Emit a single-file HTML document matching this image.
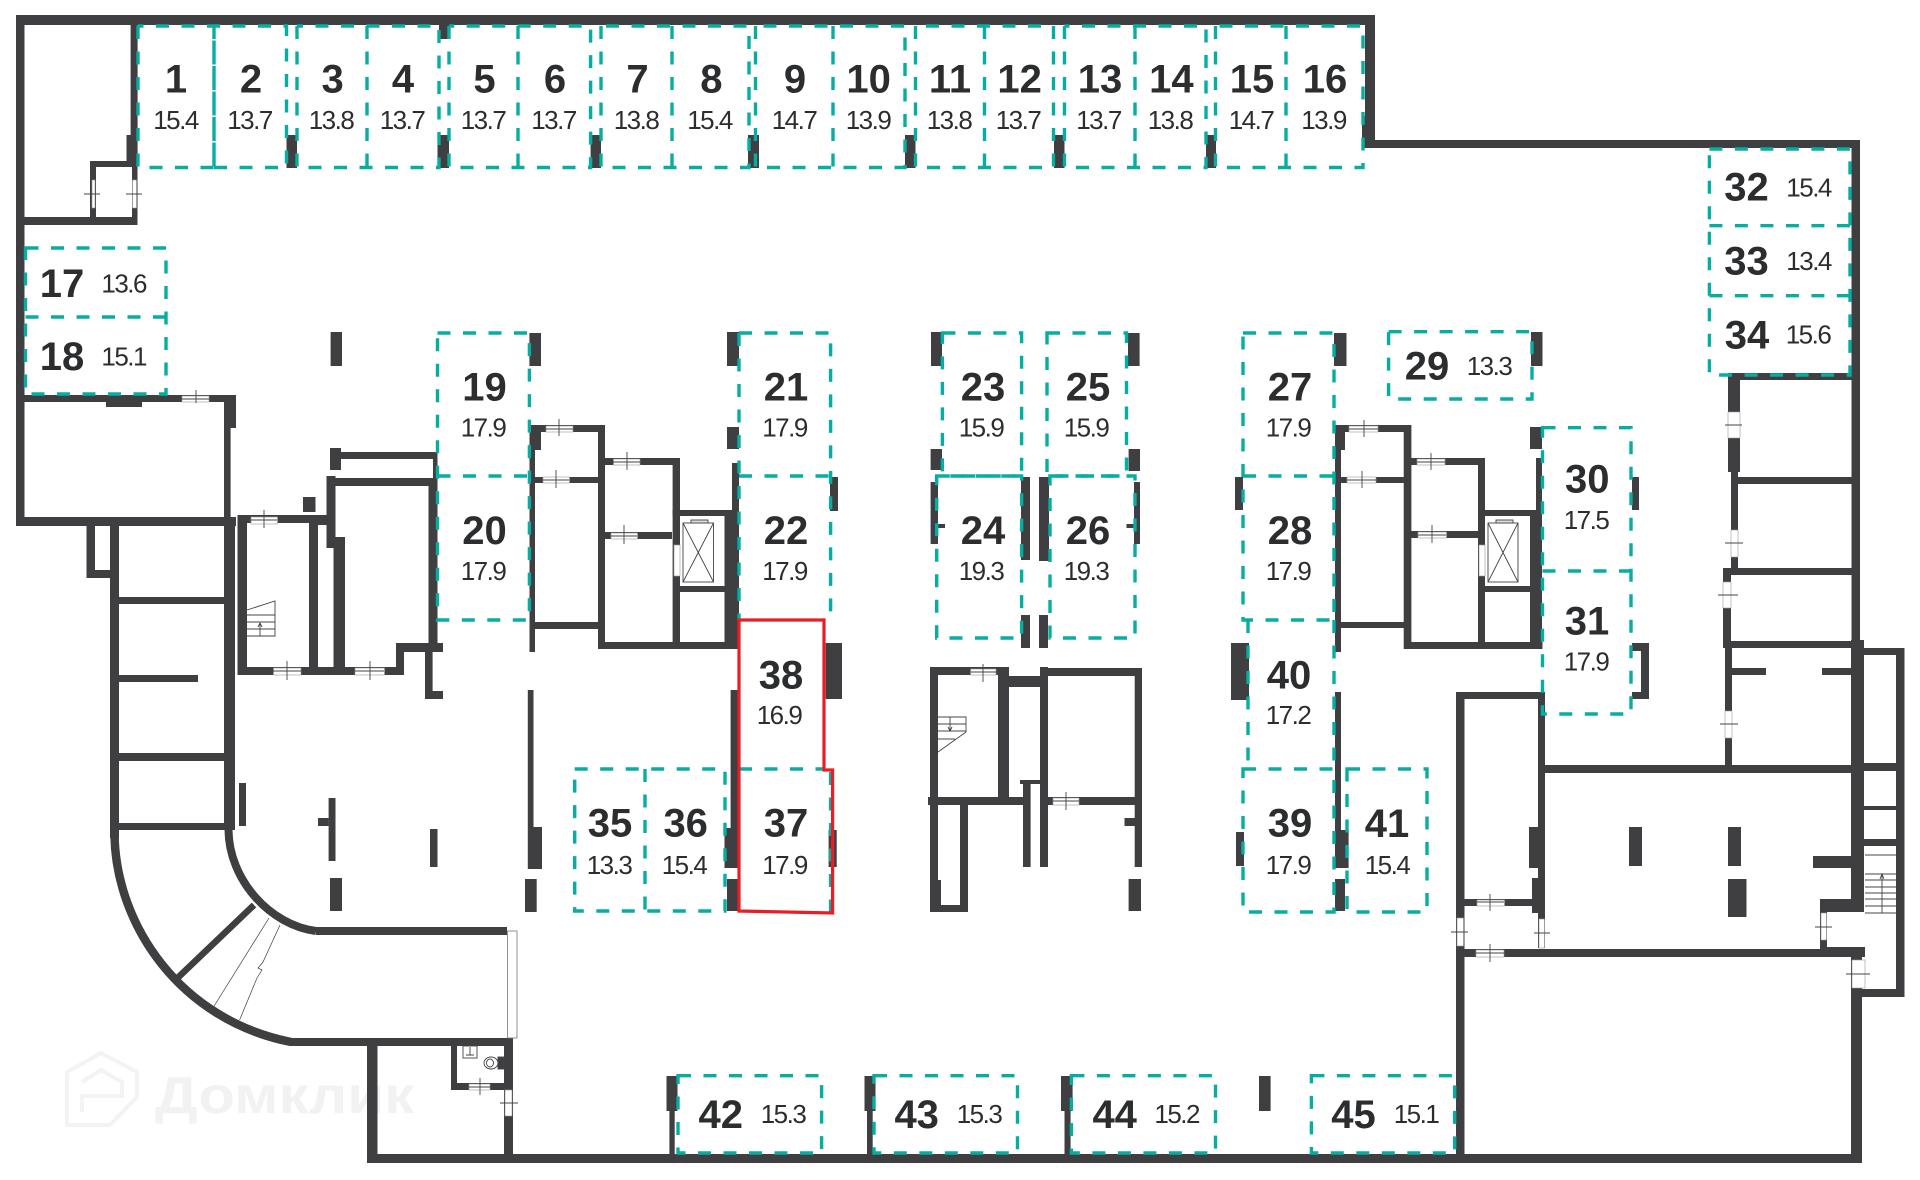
<!DOCTYPE html>
<html lang="ru"><head><meta charset="utf-8"><title>План</title>
<style>
html,body{margin:0;padding:0;background:#fff}
svg{display:block}
.w{fill:#3f3f41}
.d{fill:#fff;stroke:#9a9a9a;stroke-width:.6}
.c{fill:none;stroke:#444;stroke-width:.9}
.t{fill:none;stroke:#06ada0;stroke-width:3.4;stroke-dasharray:13 12.5}
.n{font:bold 40px "Liberation Sans",sans-serif;fill:#2b2d2f;text-anchor:middle}
.a{font:26px "Liberation Sans",sans-serif;fill:#2b2d2f;text-anchor:middle;letter-spacing:-1.5px}
</style></head><body>
<svg width="1920" height="1180" viewBox="0 0 1920 1180" xmlns="http://www.w3.org/2000/svg">
<rect width="1920" height="1180" fill="#fff"/>
<!-- watermark -->
<g fill="none" stroke="#f3f3f3" stroke-width="4"><path d="M67 1072L101 1053L137 1072V1097L110 1125H67Z"/><path d="M82 1082L101 1070L122 1082V1096H82V1112"/></g>
<text x="155" y="1113" font-family="Liberation Sans,sans-serif" font-weight="bold" font-size="52" fill="#f2f2f2" textLength="259" lengthAdjust="spacingAndGlyphs">Домклик</text>
<!-- outer walls -->
<g class="w">
<rect x="16" y="15" width="1359" height="10"/>
<rect x="16" y="15" width="8.5" height="511"/>
<rect x="1365" y="15" width="10" height="133"/><rect x="1362" y="116" width="13" height="32"/>
<rect x="1362" y="140" width="498" height="8"/>
<rect x="1851.5" y="140" width="8.5" height="510"/>
<rect x="1851" y="640" width="13" height="272"/>
<rect x="1860" y="648" width="44.5" height="7"/>
<rect x="1896" y="648" width="8.5" height="349"/>
<rect x="1862" y="989" width="42.5" height="8"/>
<rect x="1851" y="957" width="11" height="206"/>
<rect x="367" y="1154" width="1495" height="9"/>
<rect x="367" y="1045" width="10.5" height="118"/>
<rect x="504" y="1045" width="9" height="118"/>
<!-- top-left room -->
<rect x="130.6" y="25" width="7" height="140"/><rect x="126.5" y="135" width="11" height="32"/>
<rect x="90" y="161" width="47.5" height="6"/><rect x="90" y="161" width="6" height="64"/><rect x="132" y="161" width="5.5" height="64"/>
<rect x="16" y="217" width="121.5" height="8"/>
<!-- left room -->
<rect x="16" y="395" width="220" height="7"/><rect x="106" y="400" width="36" height="7"/>
<rect x="224" y="395" width="12" height="33"/><rect x="224" y="395" width="6.6" height="125"/>
<rect x="16" y="517" width="220" height="9"/>
<rect x="86.5" y="526" width="8.5" height="52"/><rect x="86.5" y="570" width="32.5" height="8"/>
<rect x="110" y="526" width="9" height="312"/><rect x="224" y="517" width="11" height="313"/>
<rect x="119" y="597" width="105" height="7"/><rect x="119" y="675" width="79" height="7"/>
<rect x="119" y="753" width="105" height="8"/><rect x="119" y="823" width="114" height="7"/>
<rect x="239" y="783" width="7" height="43"/>
<!-- stair room -->
<rect x="237.5" y="515" width="9.5" height="160"/>
<rect x="237.5" y="515" width="90.5" height="8"/>
<rect x="309" y="515" width="9" height="160"/><rect x="316" y="515" width="12" height="10"/>
<rect x="333.5" y="537" width="11.5" height="138"/>
<rect x="326.5" y="476" width="9" height="72"/>
<rect x="237.5" y="667" width="166.5" height="8"/>
<rect x="303" y="497" width="12.5" height="15"/>
<rect x="330" y="448" width="11" height="22"/>
<rect x="330" y="452" width="107.5" height="7"/><rect x="330" y="478" width="107" height="8"/>
<rect x="428.5" y="478" width="9" height="174"/><rect x="433" y="452" width="4.5" height="26"/>
<rect x="396" y="643" width="8" height="32"/><rect x="396" y="643" width="47" height="9"/>
<rect x="425" y="652" width="7.6" height="47"/><rect x="425" y="691" width="18" height="8"/>
<!-- mid-left block -->
<rect x="529.5" y="425" width="5.5" height="227"/><rect x="529.5" y="425" width="11.5" height="25"/>
<rect x="530" y="425" width="75" height="7"/><rect x="598" y="425" width="7" height="224"/>
<rect x="535" y="477" width="63" height="6"/><rect x="535" y="622" width="63" height="7"/>
<rect x="605" y="458" width="75" height="7"/><rect x="672.6" y="458" width="7.4" height="191"/>
<rect x="605" y="532" width="67" height="7"/><rect x="598" y="642" width="142" height="7"/>
<rect x="672.6" y="510" width="61.4" height="6"/><rect x="724.5" y="510" width="14.5" height="139"/>
<rect x="732" y="463" width="7" height="53"/><rect x="680" y="586" width="45" height="6"/>
<!-- pillars -->
<rect x="727" y="427" width="12" height="22"/><rect x="727" y="332" width="12" height="34"/>
<rect x="730.6" y="690" width="7.4" height="140"/><rect x="724.5" y="828" width="13.5" height="40"/><rect x="727" y="879" width="11" height="32"/>
<rect x="825.7" y="643" width="16.3" height="56"/><rect x="830" y="477" width="8" height="34"/><rect x="828.6" y="830" width="8.1" height="37"/>
<rect x="931" y="332" width="11" height="34"/><rect x="1128" y="333" width="11.6" height="33"/>
<rect x="930.6" y="449" width="11.4" height="21"/><rect x="1128.6" y="449" width="11.4" height="22"/>
<rect x="930.6" y="482" width="7.4" height="62"/><rect x="938" y="524" width="7" height="4"/>
<rect x="1021" y="477" width="9" height="83"/><rect x="1039" y="477" width="10" height="84"/>
<rect x="1021" y="615" width="9" height="33"/><rect x="1039" y="615" width="9" height="33"/>
<rect x="1134" y="482" width="6" height="62"/><rect x="1126.5" y="524" width="7.5" height="4"/>
<!-- lower center -->
<rect x="930" y="667" width="8" height="245"/><rect x="930" y="667" width="77" height="8"/>
<rect x="998" y="667" width="11" height="138"/><rect x="1009" y="676" width="31" height="11"/>
<rect x="1040" y="667" width="8" height="200"/><rect x="1040" y="668" width="102" height="8"/>
<rect x="1134.7" y="668" width="7.3" height="199"/>
<rect x="928" y="797" width="98" height="8"/><rect x="1048" y="797" width="87" height="8"/>
<rect x="1023" y="780" width="7.6" height="87"/><rect x="1020" y="780" width="28" height="4"/>
<rect x="960" y="805" width="8" height="107"/><rect x="930" y="905" width="38" height="7"/><rect x="930" y="880" width="11" height="32"/>
<rect x="1124.5" y="818" width="10.5" height="8"/><rect x="1128.6" y="879" width="12.4" height="32"/>
<!-- right block -->
<rect x="1335" y="425" width="6" height="227"/><rect x="1335" y="425" width="10" height="25"/>
<rect x="1335" y="425" width="76" height="7"/><rect x="1403.7" y="425" width="7.7" height="224"/>
<rect x="1341" y="477" width="63" height="6"/><rect x="1341" y="622" width="63" height="6"/>
<rect x="1411" y="458" width="74" height="7"/><rect x="1478" y="458" width="7" height="191"/>
<rect x="1411" y="531" width="67" height="7"/><rect x="1404" y="642" width="138.5" height="7"/>
<rect x="1485" y="510" width="57" height="6"/><rect x="1530" y="510" width="12" height="139"/>
<rect x="1536" y="458" width="6" height="58"/><rect x="1485" y="586" width="45" height="6"/>
<rect x="1530" y="427" width="12" height="22"/>
<rect x="1334" y="333" width="12.5" height="33"/><rect x="1531" y="332" width="11.5" height="34"/>
<rect x="1235" y="477" width="8" height="33"/><rect x="1231" y="643" width="18" height="57"/>
<rect x="1335" y="692" width="6" height="138"/><rect x="1335" y="830" width="13.6" height="38"/><rect x="1335" y="879" width="10" height="32"/>
<rect x="1236" y="832" width="8" height="34"/>
<rect x="1632" y="477" width="7" height="33"/><rect x="1641" y="643" width="8" height="56"/>
<rect x="1632" y="643" width="17" height="8"/><rect x="1632" y="692" width="17" height="7"/>
<!-- lower right -->
<rect x="1456" y="692" width="8.5" height="471"/><rect x="1456" y="692" width="86" height="7"/>
<rect x="1538" y="692" width="7" height="256"/><rect x="1529" y="827" width="9" height="41"/><rect x="1532" y="878" width="13" height="35"/>
<rect x="1464" y="899" width="68" height="7"/><rect x="1456" y="949" width="409" height="8"/>
<rect x="1538" y="765" width="326" height="8"/>
<rect x="1629" y="827" width="13" height="39"/><rect x="1728" y="827" width="13" height="39"/><rect x="1728" y="879" width="18.5" height="38"/>
<rect x="1813" y="856" width="38" height="12"/>
<rect x="1820" y="899" width="44" height="13"/><rect x="1820" y="899" width="7" height="51"/><rect x="1827" y="947" width="38" height="10"/>
<rect x="1864" y="763" width="32" height="8"/><rect x="1864" y="806" width="32" height="4"/><rect x="1864" y="839" width="32" height="7"/>
<!-- far right rooms -->
<rect x="1728" y="373" width="132" height="7"/><rect x="1728" y="373" width="12" height="99"/>
<rect x="1731" y="472" width="7" height="98"/>
<rect x="1738" y="477" width="114" height="7"/><rect x="1723" y="568" width="129" height="7"/>
<rect x="1723" y="568" width="8" height="80"/><rect x="1723" y="641" width="129" height="7"/>
<rect x="1725" y="648" width="7" height="122"/><rect x="1732" y="668" width="34" height="7"/><rect x="1822" y="668" width="30" height="7"/>
<!-- top pillars -->
<rect x="286.5" y="135" width="10.5" height="33"/><rect x="437.5" y="135" width="11.5" height="33"/><rect x="590.6" y="135" width="10.4" height="33"/>
<rect x="748" y="135" width="11" height="33"/><rect x="905" y="135" width="10.5" height="33"/><rect x="1054" y="135" width="10.5" height="33"/><rect x="1206" y="135" width="10" height="33"/>
<rect x="439" y="25" width="10" height="14"/>
<rect x="330.6" y="332" width="11.4" height="34"/><rect x="529.4" y="333" width="11.6" height="33"/>
<!-- left column pillars -->
<rect x="328.6" y="798" width="6.9" height="63"/><rect x="318" y="818" width="10.6" height="8"/>
<rect x="430" y="829" width="7.5" height="38"/><rect x="330" y="878" width="12" height="33"/>
<rect x="527.8" y="690" width="5.7" height="137"/><rect x="527.8" y="827" width="14.2" height="42"/><rect x="525" y="879" width="11.7" height="33"/>
<!-- bottom pillars -->
<rect x="666.5" y="1076" width="11" height="35"/><rect x="669.4" y="1110" width="5.3" height="44"/>
<rect x="864.5" y="1076" width="11" height="35"/><rect x="867" y="1110" width="5.7" height="44"/>
<rect x="1061" y="1076" width="11.6" height="35"/><rect x="1064.5" y="1110" width="6.1" height="44"/>
<rect x="1259" y="1076" width="11.6" height="35"/>
<!-- ramp walls -->
<rect x="316" y="927" width="191" height="8"/><rect x="290" y="1038" width="223" height="8"/>
<rect x="451" y="1045" width="6" height="45"/><rect x="451" y="1083" width="62" height="7"/>
</g>
<g fill="none" stroke="#3f3f41">
<path d="M114.5 835C116 925 180 1020 291 1042" stroke-width="8.5"/>
<path d="M228.5 830C229 880 270 925 316 931" stroke-width="8"/>
<path d="M254 905L177.5 978" stroke-width="6.5"/>
<path d="M269 918L213.5 1007M280 925L263 962L258 968L262 970L257 978L239.6 1020" stroke-width=".7"/>
</g>
<rect x="507.5" y="931" width="9.5" height="107" fill="#fff" stroke="#777" stroke-width=".8"/>
<!-- wc -->
<g fill="none" stroke="#444" stroke-width=".9">
<rect x="463" y="1046" width="14" height="12"/><path d="M470 1047V1055M466 1055H474"/>
<ellipse cx="491" cy="1063" rx="7" ry="6"/><ellipse cx="490" cy="1063" rx="3.5" ry="4"/><rect x="498" y="1057" width="6" height="12" fill="#3f3f41"/>
</g>
<!-- doors -->
<g class="d">
<rect x="92" y="180" width="3" height="28"/><rect x="132.5" y="180" width="4" height="28"/>
<rect x="182" y="396" width="27" height="6"/>
<rect x="251" y="517" width="26.500" height="7"/><rect x="273.500" y="668" width="27.500" height="7"/><rect x="355" y="668" width="29.500" height="7"/>
<rect x="546" y="426" width="27" height="6"/><rect x="543" y="477" width="26.500" height="6"/>
<rect x="613.500" y="459" width="26.500" height="6"/><rect x="611" y="533" width="26.500" height="6"/>
<rect x="674" y="545" width="6" height="31"/>
<rect x="970.600" y="669" width="25.400" height="6"/><rect x="1053" y="798" width="26" height="7"/>
<rect x="1349" y="426" width="29" height="6"/><rect x="1347" y="477" width="29" height="6"/>
<rect x="1417" y="459" width="28" height="6"/><rect x="1418" y="532" width="28.500" height="6"/>
<rect x="1479" y="545" width="6" height="31"/>
<rect x="1728" y="412" width="12" height="26"/><rect x="1731" y="530" width="7" height="27"/><rect x="1723" y="582" width="8" height="26"/><rect x="1725" y="711" width="7" height="27"/>
<rect x="1477" y="900" width="27.500" height="6"/><rect x="1476" y="950" width="28" height="7"/>
<rect x="1457" y="918" width="6.500" height="28"/><rect x="1539" y="919" width="5.500" height="29"/>
<rect x="1821" y="913" width="5.500" height="27"/><rect x="1852" y="960" width="13" height="28"/>
<rect x="469" y="1084" width="21" height="6"/><rect x="505" y="1090" width="7" height="26"/>
</g>
<path class="c" d="M84 194H100M126 194H142M196 390V403M182 399H209M264 510V528M251 520H277M287 661V680M273 671H301M370 661V680M355 671H384M559 419V436M546 429H573M556 470V488M543 480H569M627 452V470M613 462H640M624 525V544M611 536H637M983 664V682M971 672H996M1066 792V810M1053 801H1079M1364 420V437M1349 429H1378M1362 471V488M1347 480H1376M1431 453V470M1417 462H1445M1432 525V543M1418 535H1446M1725 425H1742M1725 543H1743M1718 595H1738M1720 724H1738M1490 894V911M1477 902H1504M1490 944V962M1476 953H1504M1451 932H1468M1534 933H1550M1815 927H1832M1846 974H1870M480 1078V1095M469 1087H490M500 1103H518" stroke-width=".9"/>
<!-- stairs and elevators -->
<g class="c" stroke-width=".8">
<path d="M247 610L275 601V636H247M247 615H275M247 622H275M247 629H275M260 636V624M258 627L260 623L262 627"/>
<path d="M938 717H966V732L938 752M938 724H966M938 731H966M950 717V730M948 727L950 731L952 727M938 739H955"/>
<path d="M1865 855H1897M1865 874H1897M1865 880H1897M1865 887H1897M1865 893H1897M1865 899H1897M1865 906H1897M1882 874V913M1880 879L1882 874L1884 879M1865 913H1897"/>
<rect x="683" y="523" width="30.500" height="59"/><path d="M683 523L713.500 582M713.500 523L683 582"/><rect x="691" y="520" width="17" height="3" fill="#ddd"/>
<rect x="1488" y="523" width="30" height="59"/><path d="M1488 523L1518 582M1518 523L1488 582"/><rect x="1496" y="520" width="17" height="3" fill="#ddd"/>
</g>
<!-- teal boxes -->
<g class="t">
<path d="M138 26V167.500H214V26M214 167.500H286.500V26H138M214 26V167.500"/>
<path d="M297 26V167.500H439V26H297M367 26V167.500"/>
<path d="M449 26V167.500H590.600V26H449M518 26V167.500"/>
<path d="M601 26V167.500H749V26H601M672 26V167.500"/>
<path d="M755.500 26V167.500H905V26H755.500M833 26V167.500"/>
<path d="M915.500 26V167.500H1053.500V26H915.500M984.500 26V167.500"/>
<path d="M1064.500 26V167.500H1206V26H1064.500M1135 26V167.500"/>
<path d="M1215.500 26V167.500H1363V26H1215.500M1286 26V167.500"/>
<path d="M25.500 248H166V394H25.500ZM25.500 317H166"/>
<path d="M437.500 333H529.400V620H437.500ZM437.500 476H529.400"/>
<path d="M739 333H830.600V620M739 333V620M739 476H830.600"/>
<path d="M942.400 333H1021.600V476H942.400ZM1047 333H1126.500V476H1047Z"/>
<path d="M936.700 476H1021.600V638H936.700ZM1050 476H1135V638H1050Z"/>
<path d="M1243 333H1334V620H1243ZM1243 476H1334"/>
<path d="M1248 620V769M1334 620V769"/>
<path d="M1243 769H1334V912H1243Z"/>
<path d="M1347 769H1427V912H1347Z"/>
<path d="M1388.600 331.700H1532V399H1388.600Z"/>
<path d="M1542.500 427.700H1631V714H1542.500ZM1542.500 571H1631"/>
<path d="M1709.400 149H1850V375H1709.400ZM1709.400 225.700H1850M1709.400 295.700H1850"/>
<path d="M574.700 769H725V911H574.700ZM645 769V911"/>
<path d="M739 769H824M830.600 772V912"/>
<path d="M678 1075.700H821.600V1153H678ZM874 1075.700H1017.500V1153H874ZM1071.400 1075.700H1215.500V1153H1071.400ZM1311.400 1075.700H1454.700V1153H1311.400Z"/>
</g>
<!-- selected -->
<path d="M739 620H824V770H832.600V913L739 911Z" fill="none" stroke="#ea1c24" stroke-width="3.200"/>
<!-- labels -->
<g class="n">
<text x="176" y="92.700">1</text><text x="251" y="92.700">2</text><text x="332.600" y="92.700">3</text><text x="403" y="92.700">4</text><text x="484.500" y="92.700">5</text><text x="555" y="92.700">6</text><text x="637.500" y="92.700">7</text><text x="711.400" y="92.700">8</text><text x="795" y="92.700">9</text><text x="868.600" y="92.700">10</text><text x="950" y="92.700">11</text><text x="1019.600" y="92.700">12</text><text x="1100" y="92.700">13</text><text x="1171.400" y="92.700">14</text><text x="1252" y="92.700">15</text><text x="1325" y="92.700">16</text>
<text x="62" y="297">17</text><text x="62" y="370">18</text>
<text x="484.500" y="400.700">19</text><text x="484.500" y="544">20</text><text x="786" y="400.700">21</text><text x="786" y="544">22</text>
<text x="983" y="400.700">23</text><text x="983" y="544">24</text><text x="1088" y="400.700">25</text><text x="1088" y="544">26</text>
<text x="1290" y="400.700">27</text><text x="1290" y="544">28</text><text x="1427" y="379.300">29</text>
<text x="1587.300" y="492.700">30</text><text x="1587" y="634.300">31</text>
<text x="1746.500" y="200.700">32</text><text x="1746.500" y="274.300">33</text><text x="1747" y="348.300">34</text>
<text x="610" y="836.700">35</text><text x="685.700" y="836.700">36</text><text x="786" y="836.700">37</text><text x="781" y="688.300">38</text>
<text x="1290" y="836.700">39</text><text x="1289" y="688.300">40</text><text x="1387" y="837">41</text>
<text x="720.800" y="1128">42</text><text x="916.700" y="1128">43</text><text x="1114.700" y="1128">44</text><text x="1353.500" y="1128">45</text>
</g>
<g class="a">
<text x="175.500" y="129">15.4</text><text x="249.500" y="129">13.7</text><text x="331" y="129">13.8</text><text x="402" y="129">13.7</text><text x="483" y="129">13.7</text><text x="553.500" y="129">13.7</text><text x="636" y="129">13.8</text><text x="709.500" y="129">15.4</text><text x="794" y="129">14.7</text><text x="868" y="129">13.9</text><text x="949" y="129">13.8</text><text x="1018" y="129">13.7</text><text x="1098.500" y="129">13.7</text><text x="1170" y="129">13.8</text><text x="1251" y="129">14.7</text><text x="1323.500" y="129">13.9</text>
<text x="123.700" y="292.700">13.6</text><text x="123.700" y="365.700">15.1</text>
<text x="483" y="436.700">17.9</text><text x="483" y="580">17.9</text><text x="784.500" y="436.700">17.9</text><text x="784.500" y="580">17.9</text>
<text x="981" y="436.700">15.9</text><text x="981" y="580">19.3</text><text x="1086" y="436.700">15.9</text><text x="1086" y="580">19.3</text>
<text x="1288" y="436.700">17.9</text><text x="1288" y="580">17.9</text><text x="1489" y="375">13.3</text>
<text x="1586" y="529">17.5</text><text x="1586" y="670.700">17.9</text>
<text x="1808.600" y="196.700">15.4</text><text x="1808.600" y="270">13.4</text><text x="1808" y="343.300">15.6</text>
<text x="609" y="874">13.3</text><text x="684" y="874">15.4</text><text x="784.500" y="874">17.9</text><text x="779" y="724">16.9</text>
<text x="1288" y="874">17.9</text><text x="1288" y="724">17.2</text><text x="1387" y="874">15.4</text>
<text x="783" y="1123">15.3</text><text x="979" y="1123">15.3</text><text x="1176.700" y="1123">15.2</text><text x="1416" y="1123">15.1</text>
</g>
</svg>
</body></html>
